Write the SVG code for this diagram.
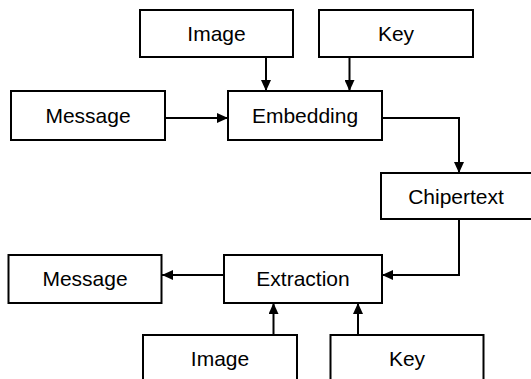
<svg xmlns="http://www.w3.org/2000/svg" width="531" height="379" viewBox="0 0 531 379">
<style>
.box{fill:#fff;stroke:#000;stroke-width:2}
.lbl{font-family:"Liberation Sans",Arial,sans-serif;font-size:21px;fill:#000;text-anchor:middle;dominant-baseline:central}
.edge{fill:none;stroke:#000;stroke-width:2}
</style>
<defs>
<marker id="arr" markerUnits="userSpaceOnUse" markerWidth="12" markerHeight="10" refX="11" refY="5" orient="auto">
<path d="M0,0 L11,5 L0,10 Z" fill="#000"/>
</marker>
</defs>
<rect width="531" height="379" fill="#fff"/>
<g id="connectors">
<line class="edge" x1="266" y1="58" x2="266" y2="91" marker-end="url(#arr)"/>
<line class="edge" x1="349.5" y1="58" x2="349.5" y2="91" marker-end="url(#arr)"/>
<line class="edge" x1="165" y1="118" x2="228" y2="118" marker-end="url(#arr)"/>
<polyline class="edge" points="382,118 459,118 459,173" marker-end="url(#arr)"/>
<polyline class="edge" points="459,219 459,275 382,275" marker-end="url(#arr)"/>
<line class="edge" x1="224" y1="275" x2="162" y2="275" marker-end="url(#arr)"/>
<line class="edge" x1="273.5" y1="335" x2="273.5" y2="303" marker-end="url(#arr)"/>
<line class="edge" x1="358" y1="335" x2="358" y2="303" marker-end="url(#arr)"/>
</g>
<g id="image1"><rect class="box" x="140" y="10" width="153" height="47"/><text class="lbl" x="216.5" y="33.5">Image</text></g>
<g id="key1"><rect class="box" x="319" y="10" width="154" height="47"/><text class="lbl" x="396" y="33.5">Key</text></g>
<g id="message1"><rect class="box" x="11" y="91" width="154" height="49"/><text class="lbl" x="88" y="115">Message</text></g>
<g id="embedding"><rect class="box" x="228" y="91" width="154" height="49"/><text class="lbl" x="305" y="115">Embedding</text></g>
<g id="chipertext"><rect class="box" x="381" y="173" width="160" height="46"/><text class="lbl" x="456" y="196">Chipertext</text></g>
<g id="extraction"><rect class="box" x="224" y="255" width="158" height="48"/><text class="lbl" x="303" y="278.5">Extraction</text></g>
<g id="message2"><rect class="box" x="8.5" y="255" width="153" height="48"/><text class="lbl" x="85" y="278.5">Message</text></g>
<g id="image2"><rect class="box" x="143" y="335" width="154" height="60"/><text class="lbl" x="220" y="358.5">Image</text></g>
<g id="key2"><rect class="box" x="330.5" y="335" width="153" height="60"/><text class="lbl" x="407" y="358.5">Key</text></g>
</svg>
